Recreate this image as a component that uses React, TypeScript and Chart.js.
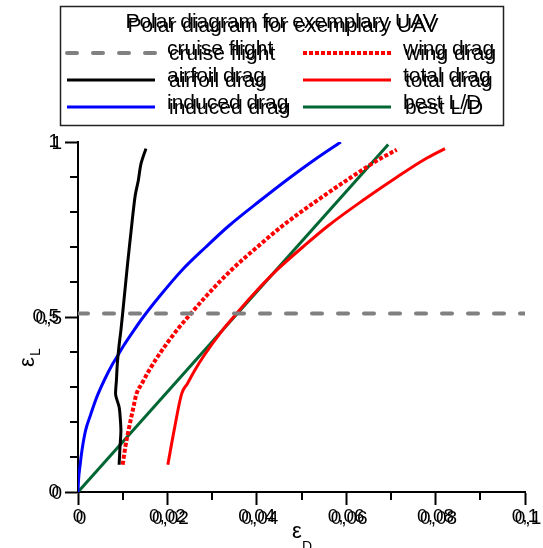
import { useEffect, useRef } from 'react';
import { Chart, registerables } from 'chart.js';

Chart.register(...registerables);

const FONT = "'Liberation Sans', Arial, sans-serif";

const titleText = 'Polar diagram for exemplary UAV';
const seriesNames = ['cruise flight', 'airfoil drag', 'induced drag', 'wing drag', 'total drag', 'best L/D'];
const seriesColors = ['#808080', '#000000', '#0000ff', '#ff0000', '#ff0000', '#006633'];

const xTickLabels = ['0', '0,02', '0,04', '0,06', '0,08', '0,1'];
const yTickLabels = ['0', '0,5', '1'];

// cruise flight (horizontal line)
const cruiseCD = [0, 0.1];
const cruiseCL = [0.51, 0.51];

// airfoil drag
const airfoilCD = [0.0092, 0.0094, 0.0096, 0.0094, 0.0092, 0.0086, 0.0084, 0.0086, 0.0088, 0.0092, 0.0096, 0.01036, 0.0111, 0.0119, 0.01275, 0.0135, 0.0141, 0.0152];
const airfoilCL = [0.078, 0.13, 0.176, 0.22, 0.243, 0.268, 0.281, 0.32, 0.367, 0.42, 0.462, 0.558, 0.653, 0.748, 0.843, 0.891, 0.938, 0.981];

// induced drag
const inducedCD = [0, 0.0001, 0.0005, 0.0009, 0.0017, 0.0028, 0.0042, 0.0059, 0.0078, 0.0089, 0.0103, 0.0125, 0.0146, 0.0183, 0.0232, 0.0286, 0.0337, 0.0407, 0.0476, 0.053, 0.0588];
const inducedCL = [0, 0.03, 0.08, 0.12, 0.176, 0.22, 0.271, 0.32, 0.367, 0.39, 0.42, 0.462, 0.5, 0.56, 0.633, 0.7, 0.76, 0.832, 0.9, 0.95, 1.0];

// wing drag
const wingCD = [0.01, 0.0106, 0.0113, 0.0122, 0.0131, 0.0143, 0.0158, 0.018, 0.0221, 0.0246, 0.0287, 0.0342, 0.0401, 0.0457, 0.0534, 0.0612, 0.0673, 0.0713];
const wingCL = [0.078, 0.13, 0.176, 0.23, 0.281, 0.31, 0.345, 0.39, 0.462, 0.5, 0.56, 0.633, 0.7, 0.76, 0.832, 0.9, 0.95, 0.978];

// total drag
const totalCD = [0.0201, 0.0215, 0.0232, 0.0245, 0.026, 0.0282, 0.0323, 0.0348, 0.0389, 0.0444, 0.0503, 0.0559, 0.0636, 0.0714, 0.0775, 0.0821];
const totalCL = [0.078, 0.176, 0.281, 0.31, 0.345, 0.39, 0.462, 0.5, 0.56, 0.633, 0.7, 0.76, 0.832, 0.9, 0.95, 0.981];

// best L/D
const bestCD = [0, 0.0694];
const bestCL = [0, 0.993];

const pts = (xs: number[], ys: number[]) => xs.map((x, i) => ({ x, y: ys[i] }));

function dbl(ctx: CanvasRenderingContext2D, text: string, x: number, y: number, dx: number, dy: number) {
  ctx.fillText(text, x, y);
  ctx.fillText(text, x + dx, y + dy);
}

const overlayPlugin = {
  id: 'overlay',
  afterDraw(chart: any) {
    const ctx: CanvasRenderingContext2D = chart.ctx;
    ctx.save();

    // minor ticks
    const xs = chart.scales.x;
    const ys = chart.scales.y;
    ctx.strokeStyle = '#000';
    ctx.lineWidth = 2;
    ctx.setLineDash([]);
    xs.ticks.forEach((t: any, i: number) => {
      if (i % 2 === 0) return;
      const px = Math.round(xs.getPixelForValue(t.value));
      ctx.beginPath();
      ctx.moveTo(px, chart.chartArea.bottom);
      ctx.lineTo(px, chart.chartArea.bottom + 8);
      ctx.stroke();
    });
    ys.ticks.forEach((t: any, i: number) => {
      if (i % 5 === 0) return;
      const py = Math.round(ys.getPixelForValue(t.value));
      ctx.beginPath();
      ctx.moveTo(chart.chartArea.left, py);
      ctx.lineTo(chart.chartArea.left - 8, py);
      ctx.stroke();
    });

    // duplicated tick labels (ghost copy)
    [xs, ys].forEach((s: any) => {
      const items = s.getLabelItems ? s.getLabelItems() : [];
      items.forEach((it: any) => {
        if (!it.label) return;
        const o = it.options;
        ctx.save();
        ctx.translate(o.translation[0] + 3, o.translation[1] + 2);
        ctx.rotate(o.rotation || 0);
        ctx.font = it.font.string;
        ctx.textAlign = o.textAlign;
        ctx.textBaseline = o.textBaseline;
        ctx.fillStyle = '#000';
        ctx.fillText(String(it.label), 0, it.textOffset);
        ctx.restore();
      });
    });

    // legend box
    ctx.strokeStyle = '#222';
    ctx.lineWidth = 1.5;
    ctx.strokeRect(60.5, 6.5, 443, 119);

    ctx.fillStyle = '#000';
    ctx.font = `21px ${FONT}`;
    ctx.textAlign = 'center';
    ctx.textBaseline = 'alphabetic';
    dbl(ctx, titleText, 281, 28, 2, 4);

    chart.data.datasets.forEach((ds: any, i: number) => {
      const col = i < 3 ? 0 : 1;
      const row = i % 3;
      const lx0 = col === 0 ? 67 : 303;
      const lx1 = lx0 + 88;
      const ly = 53 + row * 27;
      ctx.save();
      ctx.beginPath();
      ctx.setLineDash(ds.borderDash || []);
      ctx.lineCap = ds.borderCapStyle || 'butt';
      ctx.strokeStyle = ds.borderColor;
      ctx.lineWidth = ds.borderWidth;
      ctx.moveTo(lx0, ly);
      ctx.lineTo(lx1, ly);
      ctx.stroke();
      ctx.restore();
      ctx.fillStyle = '#000';
      ctx.font = `21px ${FONT}`;
      ctx.textAlign = 'left';
      ctx.textBaseline = 'alphabetic';
      dbl(ctx, ds.label, lx1 + 12, ly + 2, 2, 5);
    });

    // axis titles
    ctx.fillStyle = '#000';
    ctx.textAlign = 'left';
    ctx.textBaseline = 'alphabetic';
    ctx.font = `22px ${FONT}`;
    ctx.fillText('\u03b5', 292, 538);
    ctx.font = `14px ${FONT}`;
    ctx.fillText('D', 302, 551);

    ctx.save();
    ctx.translate(34, 367);
    ctx.rotate(-Math.PI / 2);
    ctx.font = `22px ${FONT}`;
    ctx.fillText('\u03b5', 0, 0);
    ctx.font = `14px ${FONT}`;
    ctx.fillText('L', 11, 6);
    ctx.restore();

    ctx.restore();
  },
};

export default function App() {
  const ref = useRef<HTMLCanvasElement | null>(null);
  useEffect(() => {
    document.body.style.margin = '0';
    const canvas = ref.current;
    if (!canvas) return;
    const base = { pointRadius: 0, pointHoverRadius: 0, fill: false, tension: 0, showLine: true, borderJoinStyle: 'round' as const };
    const chart = new Chart(canvas, {
      type: 'line',
      data: {
        datasets: [
          { ...base, label: seriesNames[0], data: pts(cruiseCD, cruiseCL), borderColor: seriesColors[0], borderWidth: 4, borderDash: [10, 16], borderCapStyle: 'round' },
          { ...base, label: seriesNames[1], data: pts(airfoilCD, airfoilCL), borderColor: seriesColors[1], borderWidth: 3, tension: 0.3 },
          { ...base, label: seriesNames[2], data: pts(inducedCD, inducedCL), borderColor: seriesColors[2], borderWidth: 3, cubicInterpolationMode: 'monotone' },
          { ...base, label: seriesNames[3], data: pts(wingCD, wingCL), borderColor: seriesColors[3], borderWidth: 4, borderDash: [4, 2], cubicInterpolationMode: 'monotone' },
          { ...base, label: seriesNames[4], data: pts(totalCD, totalCL), borderColor: seriesColors[4], borderWidth: 3, cubicInterpolationMode: 'monotone' },
          { ...base, label: seriesNames[5], data: pts(bestCD, bestCL), borderColor: seriesColors[5], borderWidth: 3 },
        ] as any,
      },
      options: {
        animation: false,
        responsive: false,
        maintainAspectRatio: false,
        layout: { padding: { top: 142, right: 18, left: 0, bottom: 0 } },
        plugins: { legend: { display: false }, title: { display: false }, tooltip: { enabled: false } },
        scales: {
          x: {
            type: 'linear',
            min: 0,
            max: 0.1,
            ticks: {
              stepSize: 0.01,
              autoSkip: false,
              maxRotation: 0,
              minRotation: 0,
              padding: 0,
              color: '#000',
              font: { family: FONT, size: 19 },
              callback: (_v: any, i: number) => (i % 2 === 0 ? xTickLabels[i / 2] : ''),
            },
            grid: {
              drawOnChartArea: false,
              drawTicks: true,
              tickLength: 13,
              tickWidth: 2,
              tickColor: (c: any) => (c.index % 2 === 0 ? '#000' : 'rgba(0,0,0,0)'),
            },
            border: { display: true, color: '#000', width: 2 },
            afterFit: (s: any) => {
              s.height = 56;
              s.paddingLeft = 0;
              s.paddingRight = 0;
            },
          },
          y: {
            type: 'linear',
            min: 0,
            max: 1,
            ticks: {
              stepSize: 0.1,
              autoSkip: false,
              padding: 6,
              color: '#000',
              font: { family: FONT, size: 19 },
              callback: (_v: any, i: number) => (i % 5 === 0 ? yTickLabels[i / 5] : ''),
            },
            grid: {
              drawOnChartArea: false,
              drawTicks: true,
              tickLength: 13,
              tickWidth: 2,
              tickColor: (c: any) => (c.index % 5 === 0 ? '#000' : 'rgba(0,0,0,0)'),
            },
            border: { display: true, color: '#000', width: 2 },
            afterFit: (s: any) => {
              s.width = 78;
              s.paddingTop = 0;
              s.paddingBottom = 0;
            },
          },
        },
      } as any,
      plugins: [overlayPlugin],
    });
    return () => chart.destroy();
  }, []);
  return (
    <div style={{ width: 543, height: 548 }}>
      <canvas ref={ref} width={543} height={548} style={{ width: 543, height: 548, display: 'block' }} />
    </div>
  );
}
